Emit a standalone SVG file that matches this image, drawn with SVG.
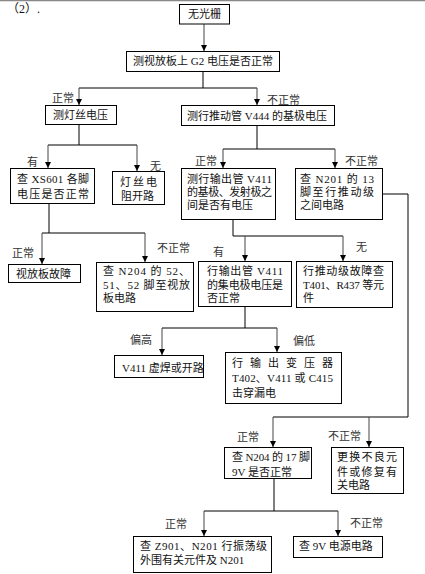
<svg xmlns="http://www.w3.org/2000/svg" width="425" height="574" viewBox="0 0 425 574">
<style>
.b{fill:#fff;stroke:#000;stroke-width:1}
text{font-family:"Liberation Serif","Noto Sans CJK SC",serif;font-size:11px;fill:#111}
.l{fill:#333}
.c path{fill:none;stroke:#000;stroke-width:1}
.c .a{stroke:#444;marker-end:url(#ah)}
</style>
<defs>
<marker id="ah" markerUnits="userSpaceOnUse" markerWidth="6" markerHeight="6" refX="6" refY="3" orient="auto">
<path d="M0,0 L6,3 L0,6 z" fill="#000"/>
</marker>
</defs>
<rect width="425" height="574" fill="#fff"/>
<line x1="0" y1="0.5" x2="425" y2="0.5" stroke="#888" stroke-width="1.5"/>
<text x="7" y="13" style="font-size:12px">（2）.</text>

<g class="c" id="connectors">
<path class="a" d="M204,24 V51"/>
<path d="M203,71 V88 M79,88 H257"/>
<path class="a" d="M79,88 V105"/>
<path class="a" d="M257,88 V105"/>
<path d="M79,124 V145 M48,145 H137"/>
<path class="a" d="M48,145 V168"/>
<path class="a" d="M137,145 V171"/>
<path d="M257,125 V149 M223,149 H335"/>
<path class="a" d="M223,149 V168"/>
<path class="a" d="M335,149 V168"/>
<path d="M49,203 V233 M42,233 H145"/>
<path class="a" d="M42,233 V264"/>
<path class="a" d="M145,233 V262"/>
<path d="M233,219 V236 H343"/>
<path class="a" d="M245,236 V261"/>
<path class="a" d="M343,236 V261"/>
<path d="M382,194 H408 V417 H273"/>
<path class="a" d="M273,417 V447"/>
<path class="a" d="M369,417 V447"/>
<path d="M245,306 V328 M162,328 H277"/>
<path class="a" d="M162,328 V355"/>
<path class="a" d="M277,328 V352"/>
<path d="M274,478 V511 M204,511 H338"/>
<path class="a" d="M204,511 V536"/>
<path class="a" d="M338,511 V536"/>
</g>

<g id="labels">
<text class="l" x="52" y="102">正常</text>
<text class="l" x="267" y="104">不正常</text>
<text class="l" x="27" y="166">有</text>
<text class="l" x="150" y="170">无</text>
<text class="l" x="195" y="165">正常</text>
<text class="l" x="345" y="165">不正常</text>
<text class="l" x="12" y="257">正常</text>
<text class="l" x="157" y="252">不正常</text>
<text class="l" x="213" y="256">有</text>
<text class="l" x="356" y="251">无</text>
<text class="l" x="130" y="344">偏高</text>
<text class="l" x="293" y="345">偏低</text>
<text class="l" x="237" y="441">正常</text>
<text class="l" x="328" y="440">不正常</text>
<text class="l" x="165" y="528">正常</text>
<text class="l" x="350" y="527">不正常</text>
</g>

<g id="n1"><rect class="b" x="179.5" y="4.5" width="50" height="19.5"/><text x="188" y="18">无光栅</text></g>
<g id="n2"><rect class="b" x="126.5" y="51.5" width="153" height="20"/><text x="133" y="65">测视放板上 G2 电压是否正常</text></g>
<g id="n3"><rect class="b" x="45.5" y="105.5" width="71" height="19"/><text x="53" y="119">测灯丝电压</text></g>
<g id="n4"><rect class="b" x="181.5" y="105.5" width="153" height="20"/><text x="187" y="120">测行推动管 V444 的基极电压</text></g>
<g id="n5"><rect class="b" x="10.5" y="168.5" width="84" height="35"/><text x="17" y="183" textLength="72" lengthAdjust="spacing">查 XS601 各脚</text><text x="17" y="198" textLength="72" lengthAdjust="spacing">电压是否正常</text></g>
<g id="n6"><rect class="b" x="112.5" y="171.5" width="52" height="33"/><text x="120" y="186" textLength="37" lengthAdjust="spacing">灯丝电</text><text x="121" y="200">阻开路</text></g>
<g id="n7"><rect class="b" x="181.5" y="168.5" width="94" height="51"/><text x="187" y="183" textLength="85" lengthAdjust="spacing">测行输出管 V411</text><text x="187" y="196" textLength="85" lengthAdjust="spacing">的基极、发射极之</text><text x="187" y="209">间是否有电压</text></g>
<g id="n8"><rect class="b" x="295.5" y="168.5" width="87" height="51"/><text x="300" y="183" textLength="74" lengthAdjust="spacing">查 N201 的 13</text><text x="300" y="196" textLength="74" lengthAdjust="spacing">脚至行推动级</text><text x="300" y="209">之间电路</text></g>
<g id="n9"><rect class="b" x="8.5" y="264.5" width="72" height="18"/><text x="16" y="278">视放板故障</text></g>
<g id="n10"><rect class="b" x="96.5" y="262.5" width="97" height="49"/><text x="103" y="275" textLength="87" lengthAdjust="spacing">查 N204 的 52、</text><text x="103" y="289" textLength="87" lengthAdjust="spacing">51、52 脚至视放</text><text x="103" y="302">板电路</text></g>
<g id="n11"><rect class="b" x="198.5" y="261.5" width="93" height="45"/><text x="207" y="275" textLength="76" lengthAdjust="spacing">行输出管 V411</text><text x="207" y="289" textLength="76" lengthAdjust="spacing">的集电极电压是</text><text x="207" y="302">否正常</text></g>
<g id="n12"><rect class="b" x="296.5" y="261.5" width="96" height="46"/><text x="303" y="275" textLength="81" lengthAdjust="spacing">行推动级故障查</text><text x="303" y="289" textLength="81" lengthAdjust="spacing">T401、R437 等元</text><text x="303" y="302">件</text></g>
<g id="n13"><rect class="b" x="114.5" y="355.5" width="89" height="22"/><text x="122" y="372">V411 虚焊或开路</text></g>
<g id="n14"><rect class="b" x="225.5" y="352.5" width="116" height="51"/><text x="232" y="367" textLength="101" lengthAdjust="spacing">行输出变压器</text><text x="232" y="382" textLength="101" lengthAdjust="spacing">T402、V411 或 C415</text><text x="232" y="397">击穿漏电</text></g>
<g id="n15"><rect class="b" x="224.5" y="447.5" width="87" height="31"/><text x="232" y="461" textLength="78" lengthAdjust="spacing">查 N204 的 17 脚</text><text x="232" y="476">9V 是否正常</text></g>
<g id="n16"><rect class="b" x="331.5" y="447.5" width="72" height="46"/><text x="337" y="461" textLength="60" lengthAdjust="spacing">更换不良元</text><text x="337" y="476" textLength="60" lengthAdjust="spacing">件或修复有</text><text x="337" y="489">关电路</text></g>
<g id="n17"><rect class="b" x="133.5" y="536.5" width="138" height="36"/><text x="140" y="550" textLength="127" lengthAdjust="spacing">查 Z901、N201 行振荡级</text><text x="140" y="564">外围有关元件及 N201</text></g>
<g id="n18"><rect class="b" x="293.5" y="536.5" width="89" height="21"/><text x="299" y="550">查 9V 电源电路</text></g>
</svg>
